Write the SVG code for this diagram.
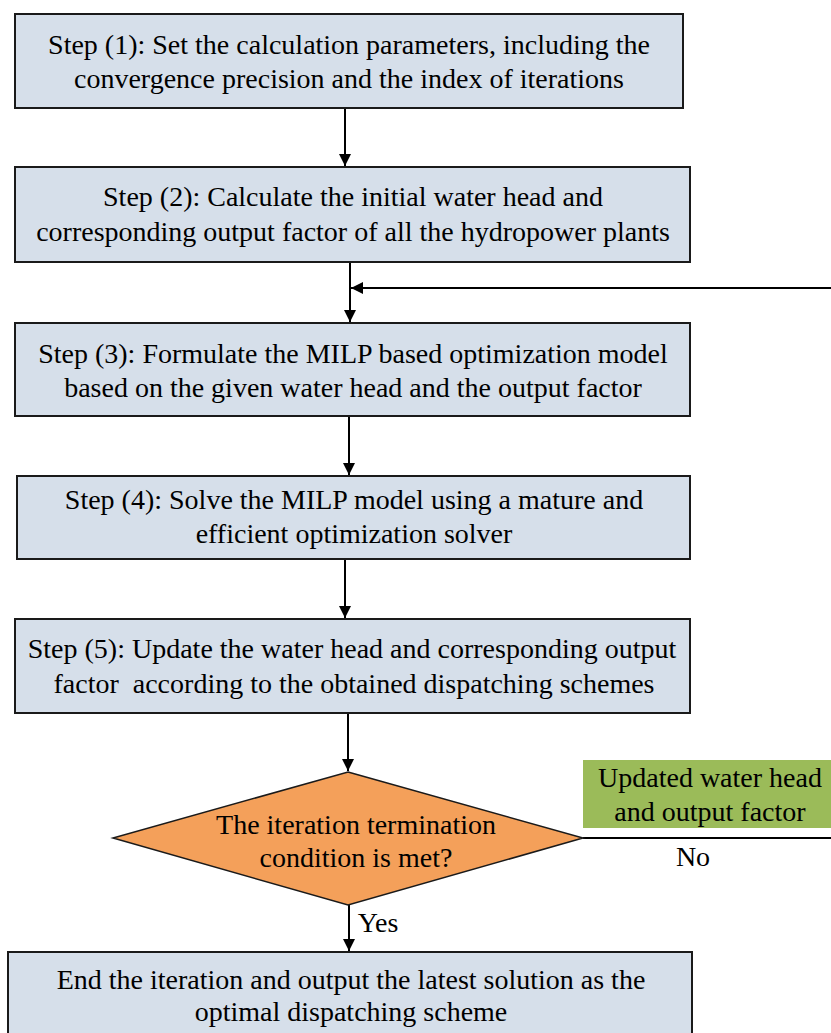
<svg xmlns="http://www.w3.org/2000/svg" width="831" height="1033" viewBox="0 0 831 1033">
<style>
.box{fill:#d6dfea;stroke:#1a1a1a;stroke-width:2}
.t{font-family:'Liberation Serif','DejaVu Serif',serif;font-size:28px;fill:#000;text-anchor:middle}
.c{stroke:#000;stroke-width:2;fill:none}
</style>
<defs>
<marker id="a" viewBox="0 0 14 14" refX="14" refY="7" markerWidth="12" markerHeight="14" markerUnits="userSpaceOnUse" orient="auto">
<path d="M0,0 L14,7 L0,14 z" fill="#000"/>
</marker>
</defs>
<rect width="831" height="1033" fill="#fff"/>
<g id="connectors">
<line class="c" x1="345" y1="108" x2="345" y2="166" marker-end="url(#a)"/>
<line class="c" x1="350" y1="262" x2="350" y2="322" marker-end="url(#a)"/>
<line class="c" x1="831" y1="288" x2="351" y2="288" marker-end="url(#a)"/>
<line class="c" x1="349" y1="416" x2="349" y2="475" marker-end="url(#a)"/>
<line class="c" x1="345" y1="559" x2="345" y2="618" marker-end="url(#a)"/>
<line class="c" x1="348" y1="713" x2="348" y2="771" marker-end="url(#a)"/>
<line class="c" x1="583" y1="838" x2="831" y2="838"/>
<line class="c" x1="349" y1="905" x2="349" y2="951" marker-end="url(#a)"/>
<text class="t" x="693" y="866">No</text>
<text class="t" x="378" y="932">Yes</text>
</g>
<g id="step1">
<rect class="box" x="15" y="14" width="668" height="94"/>
<text class="t" x="349" y="54">Step (1): Set the calculation parameters, including the</text>
<text class="t" x="349" y="88">convergence precision and the index of iterations</text>
</g>
<g id="step2">
<rect class="box" x="15" y="167" width="675" height="95"/>
<text class="t" x="353" y="206">Step (2): Calculate the initial water head and</text>
<text class="t" x="353" y="241">corresponding output factor of all the hydropower plants</text>
</g>
<g id="step3">
<rect class="box" x="15" y="323" width="675" height="93"/>
<text class="t" x="353" y="363">Step (3): Formulate the MILP based optimization model</text>
<text class="t" x="353" y="397">based on the given water head and the output factor</text>
</g>
<g id="step4">
<rect class="box" x="17" y="476" width="673" height="83"/>
<text class="t" x="354" y="509">Step (4): Solve the MILP model using a mature and</text>
<text class="t" x="354" y="543">efficient optimization solver</text>
</g>
<g id="step5">
<rect class="box" x="15" y="619" width="675" height="94"/>
<text class="t" x="352" y="658">Step (5): Update the water head and corresponding output</text>
<text class="t" x="354" y="693" xml:space="preserve">factor  according to the obtained dispatching schemes</text>
</g>
<g id="decision">
<polygon points="348,772 583,838 348,905 113,838" fill="#f4a05a" stroke="#1a1a1a" stroke-width="1.5"/>
<text class="t" x="356" y="834">The iteration termination</text>
<text class="t" x="356" y="867">condition is met?</text>
</g>
<g id="update">
<rect x="583" y="760" width="248" height="68" fill="#9bbb59"/>
<text class="t" x="710" y="787">Updated water head</text>
<text class="t" x="710" y="821">and output factor</text>
</g>
<g id="end">
<rect class="box" x="8" y="952" width="684" height="90"/>
<text class="t" x="351" y="989">End the iteration and output the latest solution as the</text>
<text class="t" x="351" y="1021">optimal dispatching scheme</text>
</g>
</svg>
